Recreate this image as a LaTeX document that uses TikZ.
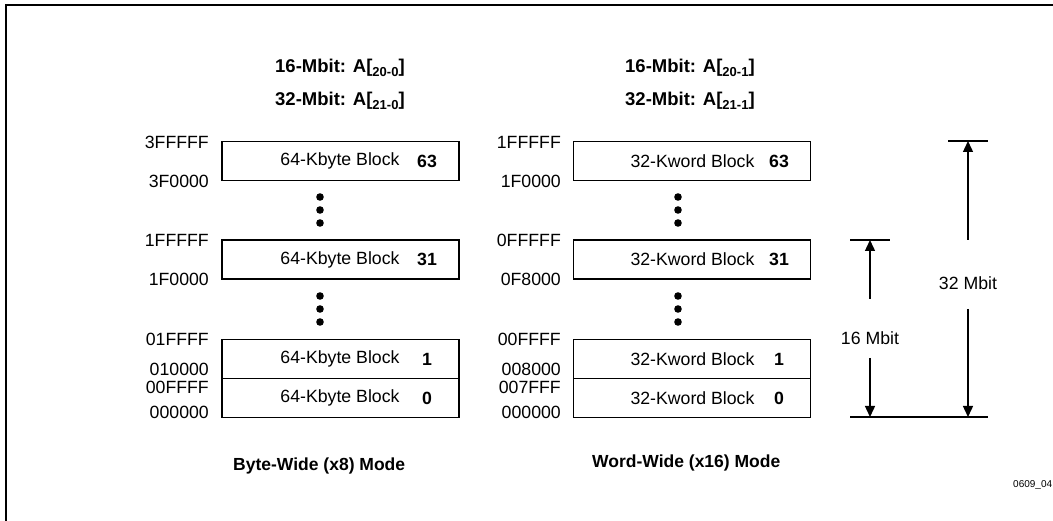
\documentclass[tikz,border=0pt]{standalone}
\usepackage{fontspec}
\setmainfont{Liberation Sans}
\usetikzlibrary{arrows.meta}
\begin{document}
\begin{tikzpicture}[x=1pt,y=-1pt,
  blk/.style={draw, line width=1.4pt, minimum width=237pt, minimum height=39pt, inner sep=0pt},
  txt/.style={inner sep=0pt, font=\fontsize{17.7}{20}\selectfont},
  num/.style={inner sep=0pt, font=\fontsize{17.7}{20}\selectfont\bfseries},
  addr/.style={inner sep=0pt, anchor=east, font=\fontsize{17.7}{20}\selectfont},
  head/.style={inner sep=0pt, anchor=west, font=\fontsize{18.5}{21}\selectfont\bfseries},
  modelabel/.style={inner sep=0pt, anchor=west, font=\fontsize{17.5}{20}\selectfont\bfseries},
  dimline/.style={line width=1.4pt},
  dimarrow/.style={line width=1.4pt, -{Triangle[length=11pt,width=10pt]}},
  dot/.style={fill=black}
]
\useasboundingbox (0,0) rectangle (1053,521);
% frame
\draw[line width=2pt] (6,530) -- (6,5) -- (1060,5);

\newcommand{\sub}[1]{\raisebox{-0.45ex}{\fontsize{13}{14}\selectfont #1}}

% headings
\node[head] (hl1) at (275,68) {16-Mbit: A[\sub{20-0}]};
\node[head] (hl2) at (275,101) {32-Mbit: A[\sub{21-0}]};
\node[head] (hr1) at (625,68) {16-Mbit: A[\sub{20-1}]};
\node[head] (hr2) at (625,101) {32-Mbit: A[\sub{21-1}]};

% left column boxes
\node[blk] (L63) at (340.5,161) {};
\node[blk] (L31) at (340.5,259.5) {};
\node[blk] (L1) at (340.5,359) {};
\node[blk] (L0) at (340.5,398) {};
% right column boxes
\node[blk] (R63) at (692,161) {};
\node[blk] (R31) at (692,259.5) {};
\node[blk] (R1) at (692,359) {};
\node[blk] (R0) at (692,398) {};

% block texts
\foreach \b/\n in {L63/63,L31/31,L1/1,L0/0}{
  \node[txt] at ([xshift=-0.5pt]\b.center) {64-Kbyte Block};
  \node[num] at ([xshift=86.5pt]\b.center) {\n};
}
\foreach \b/\n in {R63/63,R31/31,R1/1,R0/0}{
  \node[txt] at ([xshift=0.5pt]\b.center) {32-Kword Block};
  \node[num] at ([xshift=87pt]\b.center) {\n};
}

% left addresses
\node[addr] (a1) at (209,142) {3FFFFF};
\node[addr] (a2) at (209,181) {3F0000};
\node[addr] (a3) at (209,240) {1FFFFF};
\node[addr] (a4) at (209,279) {1F0000};
\node[addr] (a5) at (209,339) {01FFFF};
\node[addr] (a6) at (209,369) {010000};
\node[addr] (a7) at (209,387) {00FFFF};
\node[addr] (a8) at (209,412) {000000};
% right addresses
\node[addr] (b1) at (561,142) {1FFFFF};
\node[addr] (b2) at (561,181) {1F0000};
\node[addr] (b3) at (561,240) {0FFFFF};
\node[addr] (b4) at (561,279) {0F8000};
\node[addr] (b5) at (561,339) {00FFFF};
\node[addr] (b6) at (561,369) {008000};
\node[addr] (b7) at (561,387) {007FFF};
\node[addr] (b8) at (561,412) {000000};

% dots
\foreach \x in {320,678}{
  \foreach \y in {197,210,223,296,309,322}{
    \fill[dot] (\x,\y) circle (3.8pt);
  }
}

% bottom labels
\node[modelabel] (ml) at (233,466) {Byte-Wide (x8) Mode};
\node[modelabel] (mr) at (592,463) {Word-Wide (x16) Mode};

% dimensions
\coordinate (t16a) at (850,240);
\coordinate (t16b) at (890,240);
\coordinate (t32a) at (948,141);
\coordinate (t32b) at (988,141);
\coordinate (ba) at (850,417);
\coordinate (bb) at (988,417);
\draw[dimline] (t16a) -- (t16b);
\draw[dimline] (t32a) -- (t32b);
\draw[dimline] (ba) -- (bb);
\node[txt] (m16) at (870,338) {16 Mbit};
\node[txt] (m32) at (968,283) {32 Mbit};
\coordinate (u16) at (870,299);
\coordinate (d16) at (870,358);
\coordinate (u32) at (968,240);
\coordinate (d32) at (968,309);
\draw[dimarrow] (u16) -- (870,240);
\draw[dimarrow] (d16) -- (870,417);
\draw[dimarrow] (u32) -- (968,141);
\draw[dimarrow] (d32) -- (968,417);

\node[inner sep=0pt, anchor=west, font=\fontsize{10}{11}\selectfont] (code) at (1013,485) {0609\_04};
\end{tikzpicture}
\end{document}
